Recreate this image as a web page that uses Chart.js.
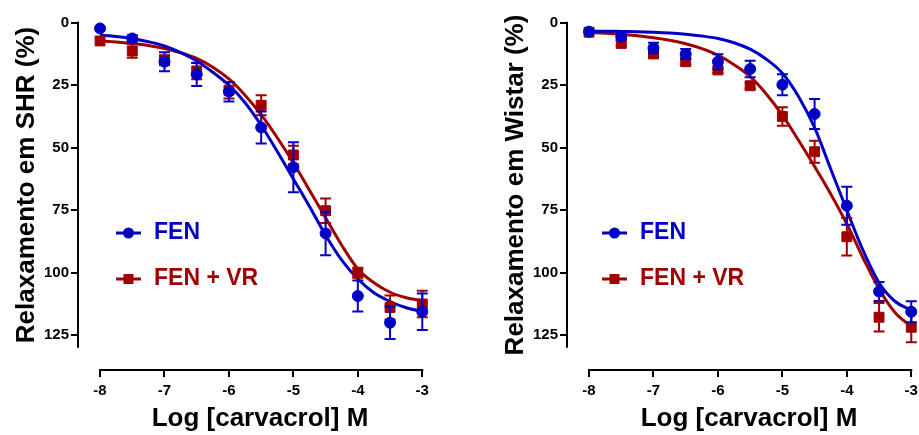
<!DOCTYPE html>
<html>
<head>
<meta charset="utf-8">
<script src="https://cdn.jsdelivr.net/npm/chart.js@4.4.1/dist/chart.umd.min.js"></script>
<style>
  html, body { margin: 0; padding: 0; background: #fff; overflow: hidden; }
  .painel { position: absolute; top: 0; width: 489px; height: 435px; }
</style>
</head>
<body>
<div class="painel" style="left:0"><canvas id="graficoShr" width="489" height="435"></canvas></div>
<div class="painel" style="left:489px"><canvas id="graficoWistar" width="489" height="435"></canvas></div>
<script>
// log [carvacrol] M
const doses = [-8, -7.5, -7, -6.5, -6, -5.5, -5, -4.5, -4, -3.5, -3];

// SHR - media e EPM
const shrFen = [2.3, 6.3, 15.6, 20.7, 27.6, 41.9, 57.8, 84.3, 109.3, 120.0, 115.6];
const shrFenSem = [0, 1.3, 3.8, 4.6, 3.9, 6.4, 10, 8.7, 6.2, 6.5, 7.3];
const shrFenVr = [7.3, 11.3, 15.0, 19.3, 27.0, 33.0, 52.9, 75.2, 100.0, 113.9, 112.5];
const shrFenVrSem = [0, 2.7, 2, 3.3, 3.3, 4, 3.7, 4.9, 2, 4.8, 5.3];

// Wistar - media e EPM
const wistarFen = [3.6, 5.6, 10.1, 12.5, 15.6, 18.5, 24.8, 36.5, 73.2, 107.5, 115.6];
const wistarFenSem = [0, 1, 2.1, 2, 3, 3.3, 4.2, 6, 7.6, 3.8, 4.2];
const wistarFenVr = [3.8, 8.3, 12.5, 15.6, 18.9, 25.2, 37.5, 51.6, 85.6, 117.8, 121.8];
const wistarFenVrSem = [0, 1, 1.2, 1.2, 1.2, 1.2, 3.7, 4.4, 7.5, 5.7, 6];

// curvas ajustadas
const fitDoses = [-8, -7.75, -7.5, -7.25, -7, -6.75, -6.5, -6.25, -6, -5.75, -5.5,
                  -5.25, -5, -4.75, -4.5, -4.25, -4, -3.75, -3.5, -3.25, -3];
const shrFenFit = [5.0, 5.5, 6.3, 7.6, 9.3, 12.0, 15.3, 19.8, 25.0, 32.0, 41.0,
                   51.5, 62.5, 73.5, 85.0, 95.0, 102.5, 108.0, 111.5, 114.0, 115.5];
const shrFenVrFit = [7.3, 7.7, 8.3, 9.1, 10.3, 12.0, 14.3, 17.8, 22.5, 29.0, 36.8,
                     46.0, 56.0, 67.0, 78.0, 89.0, 98.5, 104.0, 107.8, 110.0, 111.2];
const wistarFenFit = [3.4, 3.4, 3.5, 3.6, 3.8, 4.1, 4.6, 5.3, 6.3, 8.0, 10.6,
                      14.6, 20.2, 29.5, 42.0, 58.5, 75.0, 91.0, 104.0, 111.5, 115.0];
const wistarFenVrFit = [3.9, 4.2, 4.6, 5.2, 6.0, 7.0, 8.4, 10.4, 13.0, 16.8, 21.6,
                        28.5, 37.0, 47.0, 57.5, 68.5, 80.5, 94.0, 106.5, 116.0, 121.5];

const xTicks = [-8, -7, -6, -5, -4, -3];
const yTicks = [0, 25, 50, 75, 100, 125];
const yAxisRange = [0, 130];
const seriesLabels = ['FEN', 'FEN + VR'];

const azul = '#0000c4';
const vermelho = '#a10000';
const fonte = '"Liberation Sans", Arial, sans-serif';

const toXY = (xs, ys) => xs.map((x, i) => ({x: x, y: ys[i]}));

// barras de erro (EPM)
const errorBars = {
    id: 'errorBars',
    beforeDatasetDraw(chart, args) {
        const ds = chart.data.datasets[args.index];
        if (!ds.sem) return;
        const y = chart.scales.y;
        const ctx = chart.ctx;
        ctx.save();
        ctx.strokeStyle = ds.borderColor;
        ctx.lineWidth = 2;
        args.meta.data.forEach((pt, i) => {
            const e = ds.sem[i];
            if (!e) return;
            const v = ds.data[i].y;
            const top = y.getPixelForValue(v - e);
            const bot = y.getPixelForValue(v + e);
            ctx.beginPath();
            ctx.moveTo(pt.x, top); ctx.lineTo(pt.x, bot);
            ctx.moveTo(pt.x - 5.5, top); ctx.lineTo(pt.x + 5.5, top);
            ctx.moveTo(pt.x - 5.5, bot); ctx.lineTo(pt.x + 5.5, bot);
            ctx.stroke();
        });
        ctx.restore();
    }
};

// eixos separados, estilo GraphPad
const eixos = {
    id: 'eixos',
    afterDraw(chart) {
        const {ctx, chartArea, scales: {x, y}} = chart;
        ctx.save();
        ctx.strokeStyle = '#000';
        ctx.lineWidth = 2;
        ctx.beginPath();
        ctx.moveTo(x.getPixelForValue(xTicks[0]) - 1, chartArea.bottom);
        ctx.lineTo(x.getPixelForValue(xTicks[xTicks.length - 1]) + 1, chartArea.bottom);
        ctx.moveTo(chartArea.left, y.getPixelForValue(yAxisRange[0]) - 1);
        ctx.lineTo(chartArea.left, y.getPixelForValue(yAxisRange[1]));
        ctx.stroke();
        ctx.restore();
    }
};

const legenda = {
    id: 'legenda',
    afterDraw(chart, args, opts) {
        const ctx = chart.ctx;
        chart.data.datasets.filter(d => d.sem).forEach((ds, i) => {
            const lx = opts.x, ly = opts.y[i];
            ctx.save();
            ctx.strokeStyle = ds.borderColor;
            ctx.fillStyle = ds.borderColor;
            ctx.lineWidth = 3;
            ctx.beginPath();
            ctx.moveTo(lx, ly); ctx.lineTo(lx + 25, ly);
            ctx.stroke();
            if (ds.pointStyle === 'rect') {
                ctx.fillRect(lx + 12.5 - 5, ly - 5, 10, 10);
            } else {
                ctx.beginPath();
                ctx.arc(lx + 12.5, ly, 5.5, 0, Math.PI * 2);
                ctx.fill();
            }
            ctx.font = 'bold 23px ' + fonte;
            ctx.textBaseline = 'middle';
            ctx.fillText(ds.label, lx + 38, ly);
            ctx.restore();
        });
    }
};

function makeChart(id, yTitle, fen, fenSem, vr, vrSem, fenFit, vrFit, legendX) {
    const pontos = (label, data, sem, cor, estilo, raio) => ({
        label: label,
        data: toXY(doses, data),
        sem: sem,
        showLine: false,
        pointStyle: estilo,
        pointRadius: raio,
        pointBackgroundColor: cor,
        pointBorderColor: cor,
        pointBorderWidth: 1,
        borderColor: cor,
        backgroundColor: cor,
        clip: false
    });
    const curva = (data, cor) => ({
        data: toXY(fitDoses, data),
        showLine: true,
        borderColor: cor,
        borderWidth: 3,
        pointRadius: 0,
        cubicInterpolationMode: 'monotone',
        clip: false
    });

    return new Chart(document.getElementById(id), {
        type: 'scatter',
        data: {
            datasets: [
                pontos(seriesLabels[0], fen, fenSem, azul, 'circle', 5.5),
                pontos(seriesLabels[1], vr, vrSem, vermelho, 'rect', 7),
                curva(fenFit, azul),
                curva(vrFit, vermelho)
            ]
        },
        options: {
            responsive: false,
            animation: false,
            events: [],
            layout: { autoPadding: false, padding: { left: 0, top: 0, bottom: 0, right: 47 } },
            plugins: {
                legend: { display: false },
                tooltip: { enabled: false },
                legenda: { x: legendX, y: [233, 279] }
            },
            scales: {
                x: {
                    type: 'linear',
                    min: -8.342,
                    max: -2.694,
                    afterBuildTicks: s => { s.ticks = xTicks.map(v => ({value: v})); },
                    afterFit: s => { s.height = 65; s.paddingLeft = 0; s.paddingRight = 0; },
                    grid: { display: true, drawOnChartArea: false, drawTicks: true, tickLength: 7, lineWidth: 2, color: '#000' },
                    border: { display: false },
                    ticks: { color: '#000', padding: 5, font: { family: fonte, size: 15, weight: 'bold' } },
                    title: {
                        display: true,
                        text: 'Log [carvacrol] M',
                        color: '#000',
                        padding: { top: 0, bottom: 1 },
                        font: { family: fonte, size: 26, weight: 'bold' }
                    }
                },
                y: {
                    reverse: true,
                    min: -9.08,
                    max: 138.9,
                    afterBuildTicks: s => { s.ticks = yTicks.map(v => ({value: v})); },
                    afterFit: s => { s.width = 78; s.paddingTop = 0; s.paddingBottom = 0; },
                    grid: { display: true, drawOnChartArea: false, drawTicks: true, tickLength: 7, lineWidth: 2, color: '#000' },
                    border: { display: false },
                    ticks: { color: '#000', padding: 2, font: { family: fonte, size: 15, weight: 'bold' } },
                    title: {
                        display: true,
                        text: yTitle,
                        color: '#000',
                        padding: { top: 11, bottom: 0 },
                        font: { family: fonte, size: 26, weight: 'bold' }
                    }
                }
            }
        },
        plugins: [errorBars, eixos, legenda]
    });
}

makeChart('graficoShr', 'Relaxamento em SHR (%)', shrFen, shrFenSem, shrFenVr, shrFenVrSem,
          shrFenFit, shrFenVrFit, 116);
makeChart('graficoWistar', 'Relaxamento em Wistar (%)', wistarFen, wistarFenSem, wistarFenVr, wistarFenVrSem,
          wistarFenFit, wistarFenVrFit, 113);
</script>
</body>
</html>
